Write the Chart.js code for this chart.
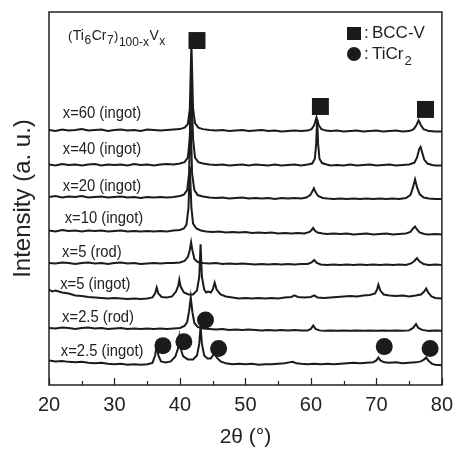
<!DOCTYPE html>
<html>
<head>
<meta charset="utf-8">
<script src="https://cdn.jsdelivr.net/npm/chart.js@4.4.1/dist/chart.umd.min.js"></script>
<style>
html,body{margin:0;padding:0;background:#fff;}
canvas{display:block;}
</style>
</head>
<body>
<canvas id="c" width="461" height="452"></canvas>
<script>
// ---- data: [2theta, stacked intensity (a.u.)] ----
const trace60 = [[20,259],[21,258],[22,259.5],[23,258.5],[24,259],[25,260],[26,258.5],[27,259],[28,259.5],[29,258],[30,259],[31,259.5],[32,258.5],[33,259],[34,258],[35,259.5],[36,259],[37,258.5],[38,259],[39,259.5],[40,260],[40.7,261.5],[41.2,265],[41.5,280],[41.75,348],[42.0,281],[42.3,266],[42.8,261.5],[43.5,260],[44.5,259],[45.5,258.5],[46.5,259],[47.5,258],[48.5,258.5],[49.5,259],[50.5,258],[51.5,258.5],[52.5,259],[53.5,258],[54.5,258.5],[55.5,257.5],[56.5,258],[57.5,258.5],[58.5,258],[59.5,258.5],[60.1,260],[60.5,264],[60.85,272],[61.2,264],[61.6,260],[62.3,258.5],[63,258],[64,258.5],[65,257.5],[66,258],[67,258.5],[68,257.5],[69,258],[70,258.5],[71,257.5],[72,258],[73,258.5],[74,257.5],[75,258],[75.7,260],[76.1,264],[76.45,269],[76.8,264],[77.2,260],[78,258],[79,257.5],[80,257.5]];
const trace40 = [[20,224],[21,223],[22,224.5],[23,223.5],[24,224],[25,223],[26,224],[27,224.5],[28,223],[29,224],[30,223.5],[31,224],[32,223],[33,224.5],[34,223.5],[35,224],[36,223],[37,224],[38,224.5],[39,224],[40,225],[40.7,226.5],[41.2,231],[41.5,250],[41.75,305],[42.0,250],[42.3,231],[42.8,226.5],[43.5,225],[44.5,224],[45.5,223.5],[46.5,224],[47.5,223],[48.5,223.5],[49.5,224],[50.5,223],[51.5,224],[52.5,223.5],[53.5,223],[54.5,224],[55.5,223],[56.5,223.5],[57.5,224],[58.5,223],[59.5,224],[60.2,225],[60.6,230],[60.8,245],[60.95,270],[61.1,245],[61.3,230],[61.7,225.5],[62.4,224],[63,223],[64,223.5],[65,223],[66,224],[67,223],[68,223.5],[69,224],[70,223],[71,223.5],[72,224],[73,223],[74,223.5],[75,224],[75.8,226],[76.2,231],[76.55,240],[76.75,242],[77.0,236],[77.3,229],[77.8,225],[78.5,223.5],[79,223],[80,223]];
const trace20 = [[20,191],[21,192],[22,190.5],[23,191.5],[24,191],[25,192],[26,190.5],[27,191],[28,191.5],[29,190.5],[30,191],[31,191.5],[32,190.5],[33,191],[34,190],[35,191],[36,190.5],[37,191],[38,190.5],[39,191],[40,192],[40.6,193.5],[41.1,198],[41.4,215],[41.6,280],[41.85,215],[42.2,198],[42.7,193],[43.5,191.5],[44.5,190.5],[45.5,190],[46.5,190.5],[47.5,189.5],[48.5,190],[49.5,190.5],[50.5,189.5],[51.5,190],[52.5,189.5],[53.5,190],[54.5,189],[55.5,190],[56.5,189.5],[57.5,190],[58.5,189.5],[59.3,190.5],[59.9,193],[60.25,197],[60.45,200],[60.7,196],[61.1,192],[61.8,190],[62.5,189.5],[63.5,189],[64.5,189.5],[65.5,189],[66.5,189.5],[67.5,189],[68.5,189.5],[69.5,189],[70.5,189.5],[71.5,189],[72.5,189.5],[73.5,189],[74.5,190],[75.2,193],[75.6,201],[75.9,209],[76.2,201],[76.6,194],[77.2,190.5],[78,189.5],[79,189],[80,189]];
const trace10 = [[20,157],[21,156],[22,157.5],[23,156.5],[24,157],[25,156],[26,157],[27,156.5],[28,157],[29,156],[30,156.5],[31,157],[32,156],[33,156.5],[34,156],[35,156.5],[36,156],[37,156.5],[38,156],[39,157],[40,157.5],[40.6,159],[41.0,163],[41.3,180],[41.5,222],[41.75,180],[42.0,164],[42.5,159],[43.2,157],[44,156],[45,155.5],[46,156],[47,155],[48,155.5],[49,155],[50,155.5],[51,154.5],[52,155],[53,154.5],[54,155],[55,154],[56,154.5],[57,154],[58,154.5],[59,154],[59.8,155.5],[60.1,157.5],[60.35,159.5],[60.6,157],[61,155],[61.8,154],[62.5,153.5],[63.5,154],[64.5,153.5],[65.5,154],[66.5,153],[67.5,153.5],[68.5,154],[69.5,153],[70.5,153.5],[71.5,154],[72.5,153],[73.5,153.5],[74.5,154],[75.2,155.5],[75.6,159],[75.9,161],[76.2,158],[76.6,155],[77.3,153.5],[78,153],[79,153.5],[80,153]];
const trace5rod = [[20,124],[21,123.5],[22,124.5],[23,124],[24,123],[25,124],[26,124.5],[27,123.5],[28,124],[29,123],[30,124],[31,124.5],[32,123.5],[33,124],[34,123],[35,123.5],[36,124],[37,123.5],[38,124],[39,124],[40,124.5],[40.7,126],[41.2,130],[41.5,137],[41.7,145],[41.9,137],[42.2,128],[42.7,125],[43.5,124],[44.5,123.5],[45.5,124],[46.5,123],[47.5,123.5],[48.5,123],[49.5,123.5],[50.5,123],[51.5,122.5],[52.5,123],[53.5,122.5],[54.5,123],[55.5,122.5],[56.5,123],[57.5,122.5],[58.5,123],[59.5,123],[60.1,124.5],[60.5,127],[60.9,124],[61.5,122.5],[62.5,122],[63.5,122.5],[64.5,122],[65.5,122.5],[66.5,122],[67.5,122.5],[68.5,122],[69.5,122.5],[70.5,122],[71.5,122.5],[72.5,122],[73.5,122.5],[74.5,122],[75.3,123.5],[75.8,126],[76.2,129],[76.6,125.5],[77.2,123],[78,122],[79,122.5],[80,122]];
const trace5ingot = [[20,97],[20.5,95],[21,96],[22,94],[23,93],[24,91],[25,90.5],[26,89.5],[27,89],[28,88.5],[29,88],[30,88.5],[31,88],[32,87.5],[33,88],[34,87.5],[35,88],[35.8,89],[36.2,93],[36.45,99],[36.7,93],[37.2,89.5],[38,89],[38.8,90],[39.4,95],[39.75,101],[39.9,107],[40.1,100],[40.6,94],[41.3,92],[42,92],[42.6,96],[42.95,110],[43.15,143],[43.35,110],[43.7,97],[44.0,94],[44.3,95],[44.7,94],[45.0,97],[45.3,104],[45.6,97],[46.2,92],[47,90],[48,89],[49,88],[50,88.5],[51,88],[52,88.5],[53,88],[54,88.5],[55,88],[56,89],[57,89.5],[57.5,91],[58,89.5],[59,89],[60,89.5],[60.5,91],[61,89],[62,88.5],[63,89],[64,89.5],[65,90],[66,90.5],[67,90],[68,91],[69,91.5],[69.8,93],[70.1,97],[70.3,102],[70.6,96],[71.1,92],[72,91],[73,90.5],[74,91],[75,90],[76,91],[76.8,92],[77.3,95],[77.6,98],[77.9,94],[78.4,90],[79,88.5],[80,88]];
const trace25rod = [[20,58],[21,57.5],[22,58.5],[23,58],[24,57],[25,58],[26,58.5],[27,57.5],[28,58],[29,57],[30,57.5],[31,58],[32,57],[33,57.5],[34,57],[35,57.5],[36,57],[37,57.5],[38,57],[39,57.5],[40,58],[40.7,60],[41.1,64],[41.4,75],[41.65,89],[41.9,74],[42.2,63],[42.7,59],[43.5,57.5],[44.5,57],[45.5,56.5],[46.5,57],[47.5,56],[48.5,56.5],[49.5,56],[50.5,56.5],[51.5,56],[52.5,55.5],[53.5,56],[54.5,55.5],[55.5,56],[56.5,55.5],[57.5,56],[58.5,55.5],[59.5,55.5],[60.0,57],[60.35,60.5],[60.7,57],[61.3,55.5],[62,55],[63,55.5],[64,55],[65,55.5],[66,55],[67,55.5],[68,55],[69,55.5],[70,55],[71,55.5],[72,55],[73,55.5],[74,55],[75,55.5],[75.6,58],[76.05,62],[76.4,58],[77,56],[78,55],[79,55.5],[80,55]];
const trace25ingot = [[20,25],[21,24],[22,24.5],[23,23.5],[24,23],[25,23.5],[26,22.5],[27,22],[28,22.5],[29,21.5],[30,21],[31,21.5],[32,20.5],[33,21],[34,20.5],[35,21],[35.8,22.5],[36.2,30],[36.45,40],[36.7,30],[37.1,24],[37.8,23],[38.6,24],[39.3,29],[39.7,37],[39.9,48],[40.1,37],[40.5,29],[41.2,26],[42,26],[42.6,30],[42.95,42],[43.15,60],[43.35,42],[43.7,30],[44.2,27],[44.7,27],[45.05,30],[45.3,32],[45.6,28],[46.2,24],[47,22],[48,21],[49,21.5],[50,21],[51,21.5],[52,20.5],[53,21],[54,21],[55,21.5],[56,22],[56.7,23],[57.2,23.5],[57.8,22],[58.5,21.5],[59.5,21],[60.5,21.5],[61.5,21],[62.5,21.5],[63.5,21],[64.5,21.5],[65.5,22],[66.5,22.5],[67.5,22],[68.5,22.5],[69.5,23],[70.0,25],[70.3,28],[70.6,25],[71.2,23],[72,22.5],[73,23],[74,22],[75,22.5],[76,23],[76.8,24],[77.3,26],[77.6,28],[77.9,25],[78.5,21.5],[79,20.5],[80,20]];

// phase markers
const bccMarkers = [[42.6,350],[61.45,283],[77.5,280]];
const ticr2Markers = [[37.4,40],[40.6,44],[43.9,66],[45.9,37],[71.2,39],[78.2,37]];

// trace labels: [text, 2theta, intensity]
const traceLabels = [
  ["x=60 (ingot)",22.1,276],["x=40 (ingot)",22.1,239],["x=20 (ingot)",22.1,202],["x=10 (ingot)",22.4,169],
  ["x=5 (rod)",22.0,135],["x=5 (ingot)",21.7,102],["x=2.5 (rod)",22.0,69],["x=2.5 (ingot)",21.8,34]
];
const xTicks = [20,30,40,50,60,70,80];

const FONT = "'Liberation Sans', Arial, Helvetica, sans-serif";
const INK = '#1b1b1b';
const toXY = a => a.map(p => ({x:p[0], y:p[1]}));
const traces = [trace60,trace40,trace20,trace10,trace5rod,trace5ingot,trace25rod,trace25ingot];

const datasets = traces.map(t => ({
  data: toXY(t), borderColor: INK, borderWidth: 2, pointRadius: 0, tension: 0, fill: false
}));
datasets.push({data: toXY(bccMarkers), showLine:false, pointStyle:'rect', pointRadius:12, pointBackgroundColor:INK, pointBorderWidth:0, borderColor:INK});
datasets.push({data: toXY(ticr2Markers), showLine:false, pointStyle:'circle', pointRadius:8.5, pointBackgroundColor:INK, pointBorderWidth:0, borderColor:INK});

const decor = {
  id: 'decor',
  afterDraw(chart) {
    const {ctx, chartArea: a, scales: {x, y}} = chart;
    ctx.save();
    // frame
    ctx.strokeStyle = '#222'; ctx.lineWidth = 1.5;
    ctx.strokeRect(a.left, a.top, a.right - a.left, a.bottom - a.top);
    // inward ticks on bottom axis
    ctx.lineWidth = 1.2;
    for (let v = 20; v <= 80; v += 5) {
      const px = Math.round(x.getPixelForValue(v)) + 0.5;
      const len = (v % 10 === 0) ? 7 : 4;
      ctx.beginPath(); ctx.moveTo(px, a.bottom); ctx.lineTo(px, a.bottom - len); ctx.stroke();
    }
    // trace labels
    ctx.fillStyle = '#222';
    ctx.textBaseline = 'middle';
    ctx.font = '17px ' + FONT;
    traceLabels.forEach(([t, xv, yv]) => {
      const px = x.getPixelForValue(xv), py = y.getPixelForValue(yv);
      ctx.save(); ctx.translate(px, py); ctx.scale(0.87, 1); ctx.fillText(t, 0, 0); ctx.restore();
    });
    // composition label (Ti6Cr7)100-xVx
    ctx.textBaseline = 'alphabetic';
    let cx = 68; const by = 40;
    const parts = [["(",13,0],["Ti",14,0],["6",12,4],["Cr",14,0],["7",12,4],[")",13,0],["100-x",12,6],["V",14,0],["x",12,5]];
    parts.forEach(([t, s, dy]) => {
      ctx.font = s + 'px ' + FONT;
      ctx.fillText(t, cx, by + dy);
      cx += ctx.measureText(t).width + 0.5;
    });
    // legend
    ctx.fillStyle = INK;
    ctx.fillRect(347, 27, 14, 13);
    ctx.beginPath(); ctx.arc(354, 54, 7, 0, Math.PI * 2); ctx.fill();
    ctx.fillStyle = '#222';
    ctx.font = '17px ' + FONT;
    ctx.textBaseline = 'middle';
    ctx.fillText(':', 364, 33);
    ctx.fillText('BCC-V', 372, 33);
    ctx.fillText(':', 364, 54);
    ctx.fillText('TiCr', 372, 54);
    const w = ctx.measureText('TiCr').width;
    ctx.font = '13px ' + FONT;
    ctx.fillText('2', 372 + w + 1, 61);
    ctx.restore();
  }
};

new Chart(document.getElementById('c'), {
  type: 'line',
  data: { datasets },
  options: {
    responsive: false, animation: false, devicePixelRatio: 1,
    layout: { padding: { top: 6, right: 15, left: 0, bottom: 0 } },
    plugins: { legend: { display: false }, tooltip: { enabled: false } },
    scales: {
      x: {
        type: 'linear', min: 20, max: 80, position: 'bottom',
        afterBuildTicks: s => { s.ticks = xTicks.map(v => ({value: v})); },
        ticks: { font: { family: FONT, size: 20 }, color: '#222', padding: 8, maxRotation: 0, autoSkip: false },
        grid: { display: false, drawTicks: false },
        border: { display: false },
        title: { display: true, text: '2θ (°)', color: '#222', font: { family: FONT, size: 21 }, padding: { top: 0, bottom: 2 } },
        afterFit: s => { s.height = 67; }
      },
      y: {
        type: 'linear', min: 0, max: 379,
        ticks: { display: false },
        grid: { display: false, drawTicks: false },
        border: { display: false },
        title: { display: true, text: 'Intensity (a. u.)', color: '#222', font: { family: FONT, size: 24 }, padding: { top: 9, bottom: 0 } },
        afterFit: s => { s.width = 49; }
      }
    }
  },
  plugins: [decor]
});
</script>
</body>
</html>
